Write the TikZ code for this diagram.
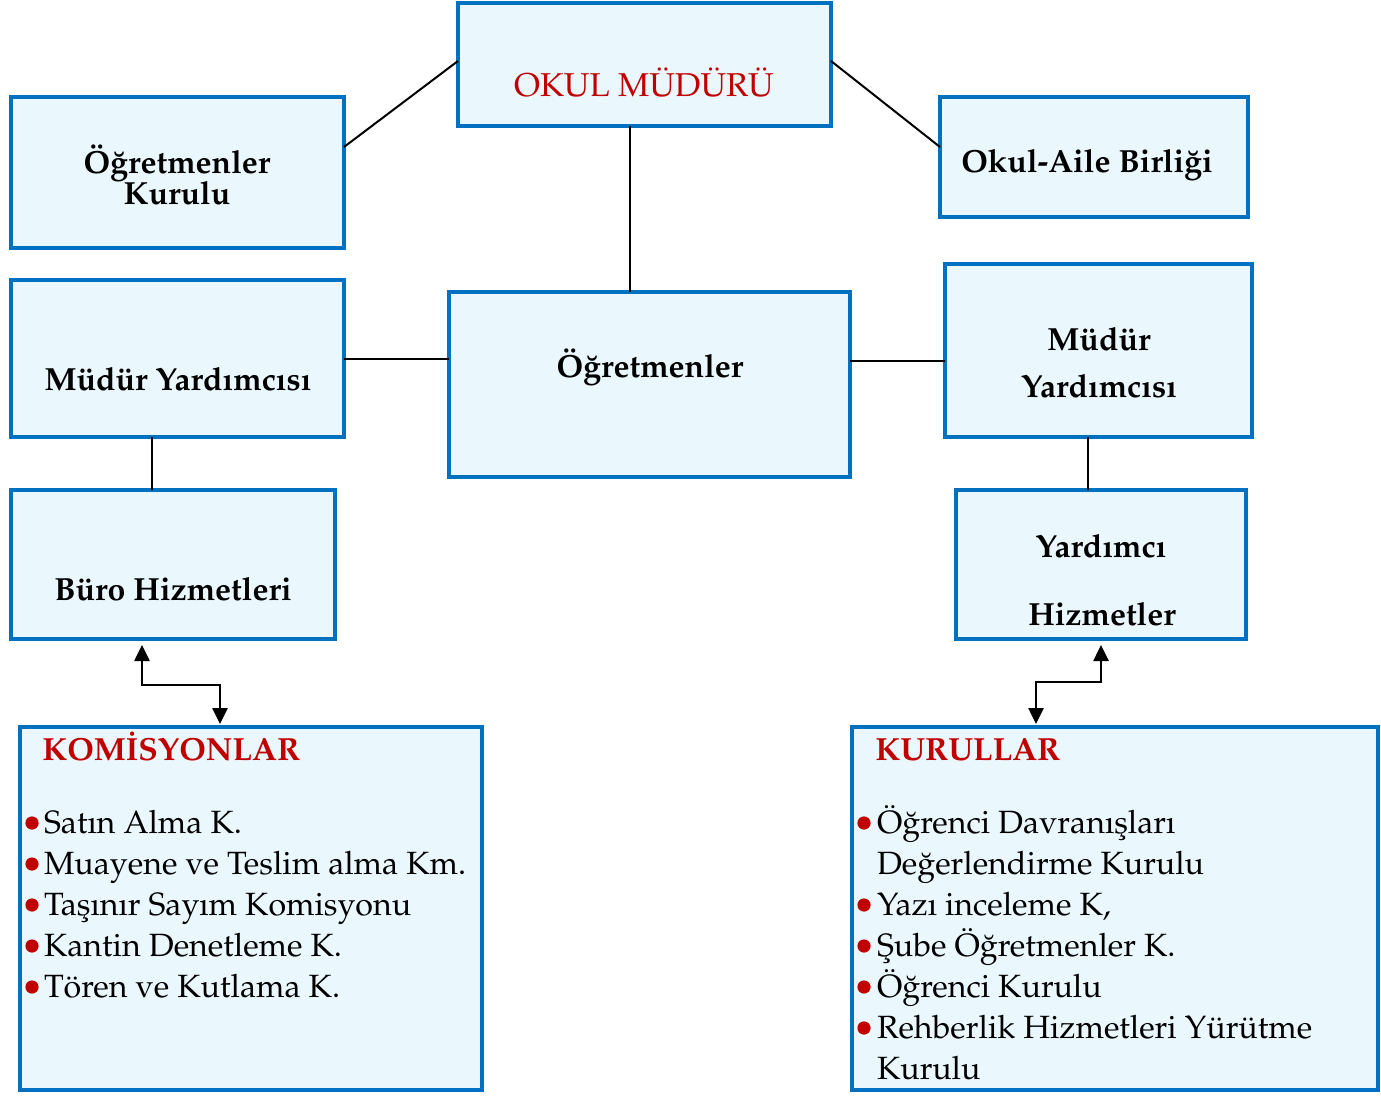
\documentclass[tikz,border=0pt]{standalone}
\usepackage[T1]{fontenc}
\usepackage{mathpazo}
\usetikzlibrary{calc,arrows.meta}
\definecolor{boxblue}{HTML}{0070C0}
\definecolor{boxfill}{HTML}{EAF8FE}
\definecolor{hred}{HTML}{C00000}
\newcommand\rbul{\tikz[baseline=0pt]\fill[hred] (0pt,5pt) circle[radius=3.3pt];}
\begin{document}
\begin{tikzpicture}[x=0.5pt,y=-0.5pt,
  box/.style={draw=boxblue, line width=2pt, fill=boxfill, rectangle, inner sep=0pt, outer sep=0pt},
  lbl/.style={font=\fontsize{16}{20}\selectfont\bfseries, inner sep=0pt, anchor=base},
  head/.style={font=\fontsize{16}{20}\selectfont\bfseries, text=hred, inner sep=0pt, anchor=base west},
  listtxt/.style={font=\fontsize{16.1}{20.5}\selectfont, inner sep=0pt, anchor=base west},
  conn/.style={line width=1pt, draw=black},
  biarrow/.style={line width=1.3pt, draw=black, {Triangle[length=8pt,width=7.5pt]}-{Triangle[length=8pt,width=7.5pt]}}]
\useasboundingbox (0,0) rectangle (1381,1097);

% boxes
\node[box, minimum width=186.5pt, minimum height=61.5pt] (okul) at (644.5,64.5) {};
\node[box, minimum width=166.5pt, minimum height=75.5pt] (kurulu) at (177.5,172.5) {};
\node[box, minimum width=154pt, minimum height=60pt] (aile) at (1094,157) {};
\node[box, minimum width=166.5pt, minimum height=78.5pt] (mydl) at (177.5,358.5) {};
\node[box, minimum width=200.5pt, minimum height=92.5pt] (ogr) at (649.5,384.5) {};
\node[box, minimum width=153.5pt, minimum height=86.5pt] (mydr) at (1098.5,350.5) {};
\node[box, minimum width=162pt, minimum height=74.5pt] (buro) at (173,564.5) {};
\node[box, minimum width=145pt, minimum height=74.5pt] (yard) at (1101,564.5) {};
\node[box, minimum width=231pt, minimum height=181.5pt] (kom) at (251,908.5) {};
\node[box, minimum width=263pt, minimum height=181.5pt] (kur) at (1115,908.5) {};

% labels
\node[lbl, font=\fontsize{16.5}{20.5}\selectfont, text=hred] (okult) at (644,97) {OKUL M\"UD\"UR\"U};
\node[lbl] (kurt1) at (177,173) {\"O\u{g}retmenler};
\node[lbl] (kurt2) at (177,204) {Kurulu};
\node[lbl] (ailet) at (1087,172) {Okul-Aile Birli\u{g}i};
\node[lbl] (mydlt) at (178,390) {M\"ud\"ur Yard\i mc\i s\i};
\node[lbl] (ogrt) at (650,377) {\"O\u{g}retmenler};
\node[lbl] (mydrt1) at (1099,350) {M\"ud\"ur};
\node[lbl] (mydrt2) at (1099,397) {Yard\i mc\i s\i};
\node[lbl] (burot) at (173,600) {B\"uro Hizmetleri};
\node[lbl] (yardt1) at (1101,557) {Yard\i mc\i};
\node[lbl] (yardt2) at (1102,625) {Hizmetler};

\node[head] (komh) at (42,760) {KOM\.ISYONLAR};
\node[head] (kurh) at (875,760) {KURULLAR};

\node[listtxt] (koml) at (25,833) {\begin{tabular}[t]{@{}l@{\hspace{2.7pt}}l@{}}
\rbul & Sat\i n Alma K.\\
\rbul & Muayene ve Teslim alma Km.\\
\rbul & Ta\c{s}\i n\i r Say\i m Komisyonu\\
\rbul & Kantin Denetleme K.\\
\rbul & T\"oren ve Kutlama K.
\end{tabular}};

\node[listtxt] (kurl) at (857,833) {\begin{tabular}[t]{@{}l@{\hspace{3.2pt}}l@{}}
\rbul & \"O\u{g}renci Davran\i\c{s}lar\i\\
 & De\u{g}erlendirme Kurulu\\
\rbul & Yaz\i{} inceleme K,\\
\rbul & \c{S}ube \"O\u{g}retmenler K.\\
\rbul & \"O\u{g}renci Kurulu\\
\rbul & Rehberlik Hizmetleri Y\"ur\"utme\\
 & Kurulu
\end{tabular}};

% connectors
\draw[conn] ($(kurulu.east)+(0,-25.5)$) -- ($(okul.west)+(0,-3.5)$);
\draw[conn] ($(okul.east)+(0,-3.5)$) -- ($(aile.west)+(0,-10)$);
\draw[conn] ($(okul.south)+(-14.5,0)$) coordinate (a) -- (a |- ogr.north);
\draw[conn] (mydl.east) -- (mydl.east -| ogr.west);
\draw[conn] ($(mydr.west)+(0,10.5)$) coordinate (b) -- (b -| ogr.east);
\draw[conn] ($(mydl.south)+(-25.5,0)$) coordinate (c) -- (c |- buro.north);
\draw[conn] ($(mydr.south)+(-10.5,0)$) coordinate (d) -- (d |- yard.north);
\draw[biarrow] ($(buro.south)+(-31,6)$) |- ($(kom.north)+(-31,-42)$) -- ($(kom.north)+(-31,-3)$);
\draw[biarrow] ($(yard.south)+(0,6)$) |- ($(kur.north)+(-79,-45)$) -- ($(kur.north)+(-79,-3)$);
\end{tikzpicture}
\end{document}
